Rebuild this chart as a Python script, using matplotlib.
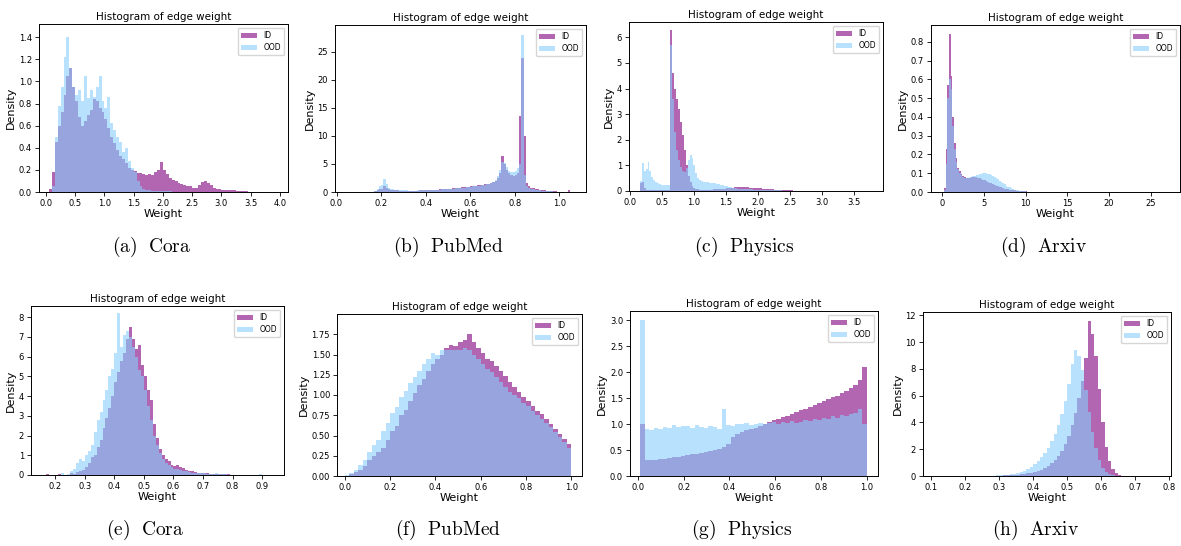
import numpy as np
import matplotlib
matplotlib.use('Agg')
import matplotlib.pyplot as plt

plt.rcParams['mathtext.fontset'] = 'cm'

# ---- data: density per bin ----
# (a) Cora, bins 0.05 .. 3.50
cora_id = [0.03, 0.18, 0.45, 0.6, 0.72, 0.88, 1.05, 1.12, 0.95, 0.82,
           0.68, 0.6, 0.64, 0.7, 0.74, 0.84, 0.82, 0.76, 0.72, 0.66,
           0.58, 0.5, 0.44, 0.38, 0.33, 0.3, 0.26, 0.22, 0.2, 0.19,
           0.17, 0.17, 0.16, 0.15, 0.16, 0.15, 0.18, 0.2, 0.27, 0.2,
           0.16, 0.13, 0.11, 0.1, 0.08, 0.07, 0.06, 0.05, 0.05, 0.04,
           0.04, 0.06, 0.09, 0.1, 0.08, 0.06, 0.04, 0.03, 0.025, 0.02,
           0.02, 0.015, 0.015, 0.015, 0.01, 0.01, 0.01, 0.008, 0.004]
cora_ood = [0.0, 0.05, 0.5, 0.78, 0.95, 1.22, 1.4, 1.12, 0.95, 0.88,
            0.92, 0.82, 1.05, 0.85, 0.92, 0.86, 0.95, 1.05, 0.82, 0.76,
            0.86, 0.62, 0.56, 0.5, 0.45, 0.36, 0.4, 0.28, 0.22, 0.18,
            0.1, 0.05, 0.03, 0.02, 0.015, 0.012, 0.01, 0.01, 0.01, 0.008,
            0.006, 0.005, 0.004, 0.003, 0.003, 0.002, 0.002, 0.002, 0.001, 0.001,
            0.001, 0.001, 0.0, 0.0, 0.0, 0.0, 0.0, 0.0, 0.0, 0.0,
            0.0, 0.0, 0.0, 0.0, 0.0, 0.0, 0.0, 0.0, 0.0]

# (b) PubMed, bins 0.17 .. 1.05
pubmed_id = [0.1, 0.3, 0.5, 0.6, 1.0, 0.7, 0.45, 0.35,
             0.3, 0.28, 0.27, 0.26, 0.25, 0.25, 0.24, 0.24, 0.24, 0.25,
             0.25, 0.26, 0.27, 0.28, 0.3, 0.31, 0.33, 0.35, 0.37, 0.4,
             0.42, 0.45, 0.48, 0.5, 0.53, 0.57, 0.6, 0.64, 0.68, 0.72,
             0.78, 0.82, 0.88, 0.92, 0.98, 1.02, 1.08, 1.12, 1.18, 1.22,
             1.28, 1.35, 1.42, 1.5, 1.6, 1.75, 2.0, 2.5, 3.4, 6.5,
             5.0, 4.0, 3.4, 3.0, 2.9, 3.0, 3.4, 13.5, 24.0, 10.0,
             1.6, 1.0, 0.8, 0.7, 0.6, 0.5, 0.42, 0.35, 0.3, 0.25,
             0.2, 0.16, 0.13, 0.1, 0.08, 0.06, 0.05, 0.04, 0.05, 0.3]
pubmed_ood = [0.25, 0.6, 1.0, 1.2, 2.3, 1.5, 0.8, 0.55,
              0.45, 0.4, 0.36, 0.33, 0.3, 0.28, 0.27, 0.26, 0.26, 0.26,
              0.26, 0.27, 0.28, 0.29, 0.3, 0.31, 0.32, 0.34, 0.36, 0.38,
              0.4, 0.42, 0.45, 0.47, 0.5, 0.53, 0.56, 0.6, 0.63, 0.67,
              0.71, 0.75, 0.8, 0.85, 0.9, 0.95, 1.0, 1.05, 1.1, 1.15,
              1.2, 1.27, 1.34, 1.42, 1.52, 1.8, 2.2, 2.8, 4.0, 5.3,
              5.2, 4.5, 3.8, 3.5, 3.5, 3.7, 4.2, 5.0, 28.0, 3.0,
              1.0, 0.7, 0.55, 0.45, 0.38, 0.32, 0.27, 0.22, 0.18, 0.15,
              0.12, 0.1, 0.08, 0.06, 0.05, 0.04, 0.03, 0.02, 0.02, 0.0]

# (c) Physics, bins 0.15 .. 2.85
physics_id = [0.3, 0.35, 0.1, 0.03, 0.02, 0.02, 0.02, 0.02, 0.02, 0.02,
              0.02, 0.02, 0.02, 0.02, 0.02, 0.02, 6.3, 4.6, 4.0, 3.6,
              3.2, 2.7, 2.2, 1.6, 1.0, 0.6, 0.35, 0.2, 0.12, 0.08,
              0.06, 0.05, 0.05, 0.05, 0.05, 0.05, 0.05, 0.05, 0.06, 0.06,
              0.06, 0.07, 0.07, 0.08, 0.09, 0.1, 0.11, 0.12, 0.13, 0.14,
              0.14, 0.15, 0.15, 0.15, 0.15, 0.14, 0.14, 0.13, 0.13, 0.12,
              0.12, 0.11, 0.1, 0.1, 0.09, 0.08, 0.08, 0.07, 0.06, 0.06,
              0.05, 0.05, 0.04, 0.04, 0.03, 0.03, 0.03, 0.02, 0.02, 0.02,
              0.015, 0.015, 0.01, 0.01, 0.008, 0.006, 0.004, 0.003, 0.002, 0.001]
physics_ood = [0.4, 1.1, 0.8, 0.85, 1.15, 0.8, 0.55, 0.42, 0.35, 0.3,
               0.27, 0.25, 0.24, 0.23, 0.22, 0.25, 5.7, 3.6, 2.3, 1.6,
               1.2, 0.95, 0.8, 0.75, 0.9, 1.2, 1.4, 1.3, 1.0, 0.7,
               0.5, 0.42, 0.38, 0.36, 0.35, 0.34, 0.33, 0.32, 0.31, 0.3,
               0.28, 0.26, 0.24, 0.22, 0.2, 0.18, 0.16, 0.14, 0.12, 0.11,
               0.1, 0.09, 0.09, 0.08, 0.08, 0.07, 0.07, 0.06, 0.06, 0.05,
               0.05, 0.05, 0.04, 0.04, 0.04, 0.03, 0.03, 0.03, 0.03, 0.02,
               0.02, 0.02, 0.02, 0.02, 0.015, 0.015, 0.01, 0.01, 0.01, 0.01,
               0.008, 0.006, 0.005, 0.004, 0.003, 0.002, 0.002, 0.001, 0.001, 0.0]

# (d) Arxiv, bins 0.2 .. 12.2
arxiv_id = [0.02, 0.23, 0.57, 0.84, 0.62, 0.4, 0.26, 0.18, 0.13, 0.11,
            0.095, 0.085, 0.078, 0.075, 0.075, 0.076, 0.078, 0.079, 0.079, 0.078,
            0.076, 0.073, 0.07, 0.066, 0.062, 0.058, 0.054, 0.05, 0.046, 0.042,
            0.038, 0.034, 0.03, 0.027, 0.024, 0.021, 0.018, 0.016, 0.014, 0.012,
            0.01, 0.009, 0.008, 0.007, 0.006, 0.005, 0.004, 0.004, 0.003, 0.003,
            0.002, 0.002, 0.002, 0.001, 0.001, 0.001, 0.001, 0.0, 0.0, 0.0]
arxiv_ood = [0.01, 0.15, 0.5, 0.6, 0.55, 0.35, 0.23, 0.16, 0.12, 0.1,
             0.088, 0.08, 0.076, 0.075, 0.076, 0.078, 0.08, 0.083, 0.086, 0.089,
             0.092, 0.095, 0.098, 0.1, 0.1, 0.1, 0.098, 0.095, 0.091, 0.086,
             0.08, 0.074, 0.067, 0.06, 0.053, 0.046, 0.04, 0.034, 0.029, 0.024,
             0.02, 0.016, 0.013, 0.01, 0.008, 0.006, 0.005, 0.004, 0.003, 0.002,
             0.002, 0.001, 0.001, 0.001, 0.0, 0.0, 0.0, 0.0, 0.0, 0.0]

# (e) Cora, bins 0.15 .. 0.92
cora2_id = [0.0, 0.0, 0.05, 0.02, 0.0, 0.0, 0.03, 0.0, 0.0, 0.02,
            0.1, 0.05, 0.15, 0.2, 0.25,
            0.4, 0.6, 0.9, 1.0, 1.4, 1.8, 2.4, 2.9, 3.4, 4.0,
            4.7, 5.2, 5.8, 6.2, 6.9, 7.5, 6.9, 6.4, 6.6, 5.6,
            5.0, 4.3, 3.8, 2.6, 1.9, 1.3, 1.0, 0.8, 0.7, 0.5,
            0.45, 0.5, 0.4, 0.35, 0.25, 0.2, 0.18, 0.15, 0.12, 0.1,
            0.1, 0.08, 0.06, 0.05, 0.05, 0.06, 0.04, 0.03, 0.03, 0.02,
            0.02, 0.01, 0.01, 0.0, 0.0, 0.0, 0.0, 0.0, 0.0, 0.0, 0.0, 0.0]
cora2_ood = [0.0, 0.0, 0.0, 0.0, 0.0, 0.0, 0.0, 0.1, 0.0, 0.05,
             0.2, 0.3, 0.6, 0.8, 0.7,
             1.0, 1.2, 1.5, 2.2, 2.8, 3.2, 3.8, 4.3, 5.0, 5.4,
             6.2, 8.2, 6.5, 7.1, 7.3, 7.0, 6.5, 6.0, 5.3, 5.0,
             4.3, 3.5, 2.8, 2.0, 1.5, 1.1, 0.8, 0.6, 0.5, 0.4,
             0.3, 0.3, 0.25, 0.2, 0.18, 0.15, 0.12, 0.1, 0.1, 0.08,
             0.08, 0.06, 0.05, 0.05, 0.1, 0.04, 0.03, 0.03, 0.02, 0.02,
             0.02, 0.01, 0.01, 0.01, 0.0, 0.0, 0.0, 0.0, 0.0, 0.05, 0.0, 0.0]

# (f) PubMed, bins 0.0 .. 1.0
pubmed2_id = [0.0, 0.02, 0.05, 0.08, 0.12, 0.2, 0.25, 0.3, 0.35, 0.45,
              0.55, 0.62, 0.75, 0.82, 0.92, 1.02, 1.12, 1.2, 1.3, 1.38,
              1.45, 1.5, 1.58, 1.62, 1.6, 1.66, 1.68, 1.75, 1.65, 1.58,
              1.52, 1.45, 1.42, 1.36, 1.3, 1.24, 1.16, 1.1, 1.04, 0.98,
              0.92, 0.86, 0.8, 0.76, 0.7, 0.64, 0.58, 0.52, 0.46, 0.4]
pubmed2_ood = [0.01, 0.04, 0.08, 0.14, 0.2, 0.3, 0.38, 0.45, 0.55, 0.65,
               0.78, 0.85, 0.98, 1.05, 1.15, 1.22, 1.3, 1.38, 1.45, 1.52,
               1.5, 1.55, 1.55, 1.56, 1.55, 1.56, 1.58, 1.55, 1.5, 1.44,
               1.38, 1.32, 1.28, 1.22, 1.16, 1.1, 1.04, 1.0, 0.96, 0.9,
               0.86, 0.8, 0.75, 0.7, 0.66, 0.6, 0.54, 0.48, 0.42, 0.35]

# (g) Physics, bins 0.01 .. 1.0
physics2_id = [1.0, 0.3, 0.3, 0.31, 0.32, 0.33, 0.34, 0.36, 0.37, 0.38,
               0.4, 0.42, 0.43, 0.45, 0.47, 0.49, 0.51, 0.53, 0.56, 0.62,
               0.75, 0.8, 0.85, 0.88, 0.9, 0.93, 0.97, 1.0, 1.05, 1.08,
               1.1, 1.13, 1.16, 1.2, 1.23, 1.27, 1.3, 1.33, 1.36, 1.4,
               1.45, 1.48, 1.52, 1.55, 1.6, 1.64, 1.7, 1.75, 1.85, 2.1]
physics2_ood = [3.0, 0.9, 0.88, 0.92, 0.9, 0.95, 0.93, 0.98, 0.94, 0.96,
                0.97, 0.93, 0.98, 0.95, 0.92, 0.96, 0.94, 0.9, 1.3, 0.98,
                0.97, 1.0, 1.0, 1.02, 0.98, 1.0, 1.03, 1.0, 1.02, 1.05,
                1.0, 1.04, 1.02, 1.06, 1.03, 1.05, 1.08, 1.06, 1.1, 1.07,
                1.12, 1.1, 1.15, 1.12, 1.18, 1.15, 1.2, 1.22, 1.3, 1.0]

# (h) Arxiv, bins 0.28 .. 0.67
arxiv2_id = [0.01, 0.02, 0.03, 0.04, 0.05, 0.06, 0.08, 0.1, 0.12, 0.15,
             0.2, 0.25, 0.3, 0.38, 0.48, 0.6, 0.75, 0.95, 1.2, 1.5,
             1.9, 2.4, 3.0, 3.8, 4.7, 5.8, 7.1, 8.8, 11.6, 10.6,
             9.0, 6.5, 4.0, 2.2, 1.1, 0.5, 0.2, 0.06, 0.01]
arxiv2_ood = [0.03, 0.04, 0.06, 0.08, 0.1, 0.13, 0.17, 0.22, 0.3, 0.4,
              0.52, 0.68, 0.88, 1.1, 1.4, 1.75, 2.1, 2.6, 3.1, 3.8,
              4.6, 5.6, 6.9, 8.4, 9.4, 9.0, 7.9, 6.4, 4.8, 3.3,
              2.1, 1.2, 0.6, 0.3, 0.12, 0.05, 0.02, 0.0, 0.0]

panels = [
    # id, ood, bin range, xlim, ylim, xticks, yticks, caption, axes box (px)
    (cora_id, cora_ood, (0.05, 3.5), (-0.12, 4.14), (0, 1.52),
     np.arange(0, 4.01, 0.5), np.arange(0, 1.41, 0.2), '(a)\\ \\ Cora', (39, 288, 24, 192)),
    (pubmed_id, pubmed_ood, (0.17, 1.05), (-0.007, 1.12), (0, 29.8),
     np.arange(0, 1.01, 0.2), np.arange(0, 26, 5), '(b)\\ \\ PubMed', (335, 586, 25, 192)),
    (physics_id, physics_ood, (0.15, 2.85), (-0.02, 3.96), (0, 6.6),
     np.arange(0, 3.51, 0.5), np.arange(0, 7, 1), '(c)\\ \\ Physics', (629, 883, 22, 191)),
    (arxiv_id, arxiv_ood, (0.2, 12.2), (-1.35, 28.5), (0, 0.89),
     np.arange(0, 26, 5), np.arange(0, 0.81, 0.1), '(d)\\ \\ Arxiv', (931, 1180, 25, 192)),
    (cora2_id, cora2_ood, (0.15, 0.92), (0.118, 0.974), (0, 8.57),
     np.arange(0.2, 0.91, 0.1), np.arange(0, 9, 1), '(e)\\ \\ Cora', (31, 284, 306, 475)),
    (pubmed2_id, pubmed2_ood, (0.0, 1.0), (-0.034, 1.047), (0, 2.0),
     np.arange(0, 1.01, 0.2), np.arange(0, 1.76, 0.25), '(f)\\ \\ PubMed', (337, 582, 314, 476)),
    (physics2_id, physics2_ood, (0.01, 1.0), (-0.034, 1.048), (0, 3.18),
     np.arange(0, 1.01, 0.2), np.arange(0, 3.01, 0.5), '(g)\\ \\ Physics', (630, 878, 311, 476)),
    (arxiv2_id, arxiv2_ood, (0.28, 0.67), (0.075, 0.806), (0, 12.25),
     np.arange(0.1, 0.81, 0.1), np.arange(0, 13, 2), '(h)\\ \\ Arxiv', (923, 1171, 312, 476)),
]

W, H = 1181, 546
fig = plt.figure(figsize=(W / 100, H / 100), dpi=100)

for idv, oodv, (lo, hi), xl, yl, xt, yt, cap, (l, r, t, b) in panels:
    ax = fig.add_axes([l / W, 1 - b / H, (r - l) / W, (b - t) / H])
    edges = np.linspace(lo, hi, len(idv) + 1)
    ax.stairs(idv, edges, fill=True, color='purple', alpha=0.6, label='ID', linewidth=0)
    ax.stairs(oodv, edges, fill=True, color='lightskyblue', alpha=0.6, label='OOD', linewidth=0)
    ax.set_xlim(xl)
    ax.set_ylim(yl)
    ax.set_xticks(xt)
    ax.set_yticks(yt)
    ax.tick_params(labelsize=6, length=3, width=0.6, pad=2)
    for s in ax.spines.values():
        s.set_linewidth(0.7)
    ax.set_title('Histogram of edge weight', fontsize=7.5, pad=3)
    ax.set_xlabel('Weight', fontsize=8, labelpad=1)
    ax.set_ylabel('Density', fontsize=8, labelpad=2)
    ax.legend(loc='upper right', fontsize=5.5, handlelength=2.2, borderpad=0.4,
              labelspacing=0.4, handletextpad=0.8)
    cx = (l + r) / 2 - 12
    cy = 247 if t < 100 else 530
    fig.text(cx / W, 1 - cy / H, '$\\mathrm{' + cap + '}$', fontsize=14,
             ha='center', va='center')

fig.savefig('out.png', dpi=100)
